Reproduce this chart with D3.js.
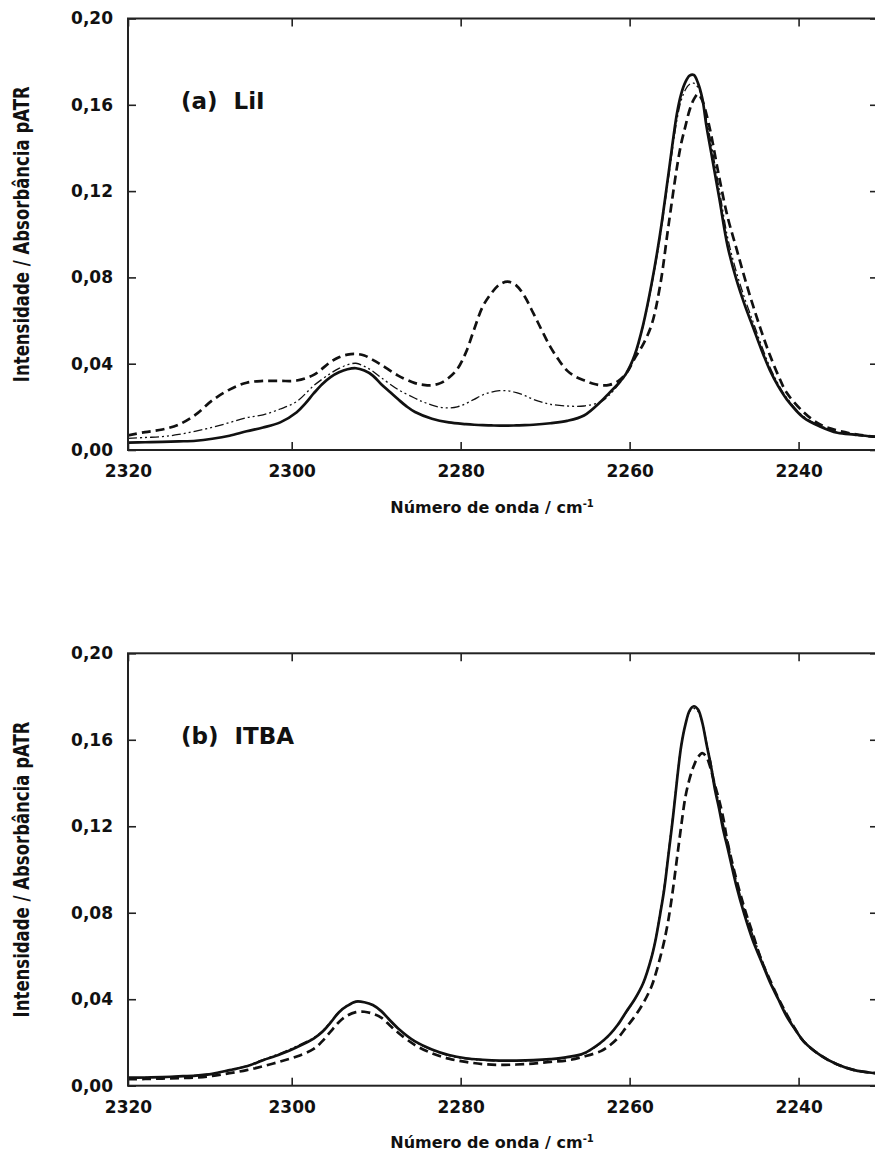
<!DOCTYPE html>
<html>
<head>
<meta charset="utf-8">
<script src="https://cdn.jsdelivr.net/npm/d3@7"></script>
<style>
  body { margin: 0; background: #fff; }
  svg { display: block; }
  .tick text { font-family: "DejaVu Sans", Verdana, sans-serif; font-weight: bold; font-size: 17px; fill: #111; }
  .tick line { stroke: #222; stroke-width: 1.6px; }
  .frame { fill: none; stroke: #222; stroke-width: 2px; }
  .ytitle { font-family: "Liberation Sans Narrow", "Arial Narrow", "DejaVu Sans", sans-serif; font-weight: bold; font-size: 22px; fill: #111; }
  .xtitle { font-family: "DejaVu Sans", Verdana, sans-serif; font-weight: bold; font-size: 16px; fill: #111; }
  .plabel { font-family: "DejaVu Sans", Verdana, sans-serif; font-weight: bold; font-size: 23px; fill: #111; white-space: pre; }
  .spec { fill: none; stroke: #111; stroke-linejoin: round; }
</style>
</head>
<body>
<svg id="chart" width="875" height="1157"></svg>
<script>
// Axis ticks
const xTicks = [2320, 2300, 2280, 2260, 2240];
const yTicks = [0, 0.04, 0.08, 0.12, 0.16, 0.20];

// Panel (a) LiI — [wavenumber, intensity]
const liiSolid = [
  [2320,.0034],[2317.9,.0036],[2315.8,.0038],[2313.8,.0040],[2311.7,.0043],[2309.7,.0052],[2307.6,.0066],[2305.5,.0087],
  [2303.5,.0104],[2301.4,.0128],[2299.4,.0175],[2298.4,.0215],[2297.4,.0262],[2296.4,.0305],[2295.4,.0338],[2294.4,.0360],
  [2293.4,.0374],[2292.4,.0379],[2291.4,.0368],[2290.4,.0345],[2289.4,.0305],[2288.4,.0270],[2287.4,.0235],[2286.4,.0202],
  [2285.4,.0176],[2283.4,.0145],[2281.4,.0128],[2279.4,.0120],[2278.4,.0117],[2277.4,.0115],[2276.4,.0114],[2275.4,.0113],
  [2274.4,.0113],[2273.4,.0114],[2272.4,.0115],[2271.4,.0117],[2269.4,.0124],[2267.4,.0135],[2265.4,.0160],[2263.4,.0225],
  [2262.4,.0265],[2261.4,.0305],[2260.4,.0355],[2259.4,.0440],[2258.4,.0580],[2257.4,.0770],[2256.4,.1000],[2255.4,.1280],
  [2254.4,.1560],[2253.9,.1650],[2253.4,.1705],[2252.9,.1735],[2252.4,.1738],[2251.9,.1700],[2251.4,.1630],[2250.9,.1500],
  [2250.4,.1390],[2249.4,.1170],[2248.4,.0945],[2247.4,.0795],[2246.4,.0675],[2245.4,.0570],[2244.4,.0465],[2243.4,.0370],
  [2242.4,.0295],[2241.4,.0235],[2239.4,.0150],[2237.4,.0108],[2235.4,.0080],[2233.4,.0071],[2231.4,.0063],[2229.4,.0058]
];
const liiDashed = [
  [2320,.0068],[2317.9,.0083],[2315.8,.0095],[2313.8,.0118],[2311.7,.0165],[2309.7,.0230],[2307.6,.0280],[2305.5,.0312],
  [2303.5,.0320],[2301.4,.0320],[2299.4,.0322],[2297.4,.0348],[2295.4,.0408],[2294.4,.0430],[2293.4,.0442],[2292.4,.0445],
  [2291.4,.0438],[2290.4,.0418],[2289.4,.0395],[2287.4,.0345],[2285.4,.0310],[2284.4,.0302],[2283.4,.0300],[2282.4,.0310],
  [2281.4,.0335],[2280.4,.0375],[2279.4,.0450],[2278.4,.0560],[2277.4,.0664],[2276.4,.0725],[2275.4,.0767],[2274.4,.0780],
  [2273.4,.0762],[2272.4,.0710],[2271.4,.0634],[2270.4,.0555],[2269.4,.0479],[2268.4,.0418],[2267.4,.0368],[2266.4,.0340],
  [2265.4,.0323],[2264.4,.0308],[2263.4,.0300],[2262.4,.0302],[2261.4,.0318],[2260.4,.0355],[2259.4,.0425],[2258.4,.0490],
  [2257.4,.0580],[2256.4,.0760],[2255.4,.1040],[2254.4,.1310],[2253.9,.1420],[2253.4,.1500],[2252.9,.1576],[2252.4,.1625],
  [2251.9,.1650],[2251.4,.1620],[2250.9,.1555],[2250.4,.1470],[2249.4,.1265],[2248.4,.1080],[2247.4,.0940],[2246.4,.0800],
  [2245.4,.0670],[2244.4,.0550],[2243.4,.0440],[2242.4,.0345],[2241.4,.0265],[2239.4,.0175],[2237.4,.0117],[2235.4,.0090],
  [2233.4,.0074],[2231.4,.0063],[2229.4,.0058]
];
const liiDashDot = [
  [2320,.0054],[2317.9,.0058],[2315.8,.0062],[2313.8,.0072],[2311.7,.0088],[2309.7,.0105],[2307.6,.0127],[2305.5,.0150],
  [2303.5,.0163],[2301.4,.0190],[2299.4,.0225],[2297.4,.0298],[2295.4,.0355],[2294.4,.0378],[2293.4,.0395],[2292.4,.0402],
  [2291.4,.0388],[2290.4,.0365],[2289.4,.0335],[2287.4,.0280],[2285.4,.0240],[2284.4,.0222],[2283.4,.0208],[2282.4,.0198],
  [2281.4,.0195],[2280.4,.0200],[2279.4,.0215],[2278.4,.0235],[2277.4,.0255],[2276.4,.0268],[2275.4,.0275],[2274.4,.0274],
  [2273.4,.0266],[2272.4,.0252],[2271.4,.0235],[2270.4,.0222],[2269.4,.0212],[2267.4,.0204],[2265.4,.0204],[2263.4,.0224],
  [2262.4,.0255],[2261.4,.0300],[2260.4,.0352],[2259.4,.0435],[2258.4,.0575],[2257.4,.0760],[2256.4,.0985],[2255.4,.1260],
  [2254.4,.1530],[2253.9,.1620],[2253.4,.1670],[2252.9,.1695],[2252.4,.1700],[2251.9,.1680],[2251.4,.1630],[2250.9,.1530],
  [2250.4,.1430],[2249.4,.1210],[2248.4,.0985],[2247.4,.0830],[2246.4,.0705],[2245.4,.0595],[2244.4,.0485],[2243.4,.0385],
  [2242.4,.0305],[2241.4,.0242],[2239.4,.0155],[2237.4,.0112],[2235.4,.0084],[2233.4,.0072],[2231.4,.0063],[2229.4,.0058]
];

// Panel (b) ITBA — shared wavenumber grid and one value list per curve
const itbaWn = [
  2320, 2317.9, 2315.8, 2313.8, 2311.7, 2309.7, 2307.6, 2305.5,
  2303.5, 2301.4, 2299.4, 2297.4, 2296.4, 2295.4, 2294.4, 2293.4,
  2292.4, 2291.4, 2290.4, 2289.4, 2288.4, 2287.4, 2285.4, 2283.4,
  2281.4, 2279.4, 2277.4, 2275.4, 2273.4, 2271.4, 2269.4, 2267.4,
  2265.4, 2263.4, 2262.4, 2261.4, 2260.4, 2259.4, 2258.4, 2257.4,
  2256.9, 2256.4, 2255.9, 2255.4, 2254.9, 2254.4, 2253.9, 2253.4,
  2252.9, 2252.4, 2251.9, 2251.4, 2250.9, 2250.4, 2249.9, 2249.4,
  2248.9, 2248.4, 2247.4, 2246.4, 2245.4, 2244.4, 2243.4, 2242.4,
  2241.4, 2240.4, 2239.4, 2237.4, 2235.4, 2233.4, 2231.4, 2229.4
];
const itbaSolidVals = [
  .0037,.0038,.0040,.0043,.0047,.0055,.0072,.0090,
  .0118,.0145,.0178,.0218,.0248,.0292,.0340,.0370,
  .0389,.0386,.0373,.0345,.0304,.0265,.0205,.0168,
  .0142,.0127,.0120,.0116,.0116,.0118,.0123,.0132,
  .0150,.0200,.0235,.0282,.0342,.0400,.0474,.0595,
  .0680,.0790,.0910,.1070,.1230,.1410,.1570,.1670,
  .1735,.1755,.1740,.1680,.1580,.1485,.1370,.1280,
  .1180,.1100,.0930,.0790,.0670,.0575,.0480,.0400,
  .0320,.0260,.0205,.0140,.0098,.0072,.0060,.0055
];
const itbaDashedVals = [
  .0030,.0031,.0033,.0035,.0038,.0045,.0058,.0072,
  .0090,.0112,.0135,.0170,.0205,.0250,.0295,.0325,
  .0340,.0342,.0333,.0315,.0280,.0245,.0188,.0150,
  .0125,.0110,.0100,.0096,.0098,.0102,.0110,.0117,
  .0135,.0160,.0185,.0220,.0270,.0320,.0381,.0460,
  .0520,.0590,.0670,.0770,.0900,.1050,.1200,.1335,
  .1420,.1480,.1520,.1538,.1520,.1465,.1390,.1320,
  .1235,.1125,.0960,.0820,.0700,.0580,.0490,.0405,
  .0330,.0262,.0205,.0140,.0098,.0072,.0060,.0055
];
const itbaDottedVals = [
  .0037,.0038,.0040,.0043,.0048,.0056,.0073,.0092,
  .0121,.0150,.0183,.0222,.0252,.0296,.0342,.0372,
  .0388,.0385,.0372,.0344,.0302,.0263,.0203,.0165,
  .0139,.0124,.0117,.0113,.0113,.0115,.0120,.0129,
  .0147,.0197,.0232,.0282,.0338,.0398,.0472,.0600,
  .0685,.0800,.0925,.1085,.1245,.1420,.1575,.1670,
  .1730,.1745,.1730,.1680,.1590,.1500,.1395,.1305,
  .1210,.1130,.0955,.0815,.0695,.0590,.0490,.0405,
  .0330,.0262,.0207,.0140,.0098,.0072,.0060,.0055
];
const itbaSolid = d3.zip(itbaWn, itbaSolidVals);
const itbaDashed = d3.zip(itbaWn, itbaDashedVals);
const itbaDotted = d3.zip(itbaWn, itbaDottedVals);

const styles = {
  solid:   { width: 2.7, dash: null },
  dashed:  { width: 2.7, dash: "9,5" },
  dashdot: { width: 1.3, dash: "9,3,2,3,2,3" }
};

const panels = [
  { top: 18.5, bottom: 450, label: "(a)  LiI", labelY: 108.5, titleY: 513,
    series: [ [liiDashDot, "dashdot"], [liiDashed, "dashed"], [liiSolid, "solid"] ] },
  { top: 653.3, bottom: 1085.7, label: "(b)  ITBA", labelY: 744, titleY: 1148,
    series: [ [itbaDotted, "dashdot"], [itbaDashed, "dashed"], [itbaSolid, "solid"] ] }
];

const left = 128, right = 878;
const yTitleLength = 296;
const svg = d3.select("#chart");
const fmt = d => d3.format(".2f")(d).replace(".", ",");

panels.forEach((p, i) => {
  // the printed axis is slightly compressed between 2320 and 2300
  const x = d3.scaleLinear().domain([2320, 2300, 2230.6]).range([left, 291.7, right]);
  const y = d3.scaleLinear().domain([0, 0.20]).range([p.bottom, p.top]);
  const g = svg.append("g");

  g.append("clipPath").attr("id", "clip" + i)
    .append("rect").attr("x", left).attr("y", p.top)
    .attr("width", right - left).attr("height", p.bottom - p.top);

  // spectra
  const line = d3.line().x(d => x(d[0])).y(d => y(d[1])).curve(d3.curveCatmullRom.alpha(0.5));
  const lines = g.append("g").attr("clip-path", `url(#clip${i})`);
  p.series.forEach(([data, st]) => {
    const s = styles[st];
    lines.append("path").attr("class", "spec")
      .attr("d", line(data))
      .attr("stroke-width", s.width)
      .attr("stroke-dasharray", s.dash);
  });

  // axes with inward ticks
  const ax = (gen, tx, ty) => {
    const a = g.append("g").attr("transform", `translate(${tx},${ty})`).call(gen);
    a.select(".domain").remove();
    return a;
  };
  ax(d3.axisBottom(x).tickValues(xTicks).tickSizeInner(-8).tickSizeOuter(0).tickPadding(15).tickFormat(d3.format("d")), 0, p.bottom);
  ax(d3.axisTop(x).tickValues(xTicks).tickSizeInner(-8).tickSizeOuter(0).tickFormat(""), 0, p.top);
  ax(d3.axisLeft(y).tickValues(yTicks).tickSizeInner(-8).tickSizeOuter(0).tickPadding(15).tickFormat(fmt), left, 0);
  ax(d3.axisRight(y).tickValues(yTicks).tickSizeInner(-8).tickSizeOuter(0).tickFormat(""), right, 0);

  g.append("rect").attr("class", "frame")
    .attr("x", left).attr("y", p.top)
    .attr("width", right - left).attr("height", p.bottom - p.top);

  // panel label
  g.append("text").attr("class", "plabel").attr("x", 181).attr("y", p.labelY)
    .attr("xml:space", "preserve").text(p.label);

  // y title: condensed horizontally to a fixed run length
  const yt = g.append("text").attr("class", "ytitle")
    .attr("text-anchor", "middle")
    .text("Intensidade / Absorbância pATR");
  const k = yTitleLength / yt.node().getComputedTextLength();
  yt.attr("transform", `translate(29,${(p.top + p.bottom) / 2}) rotate(-90) scale(${k},1)`);

  const xt = g.append("text").attr("class", "xtitle")
    .attr("x", 492).attr("y", p.titleY).attr("text-anchor", "middle");
  xt.append("tspan").text("Número de onda / cm");
  xt.append("tspan").attr("font-size", "10px").attr("dy", "-6").text("-1");
});
</script>
</body>
</html>
